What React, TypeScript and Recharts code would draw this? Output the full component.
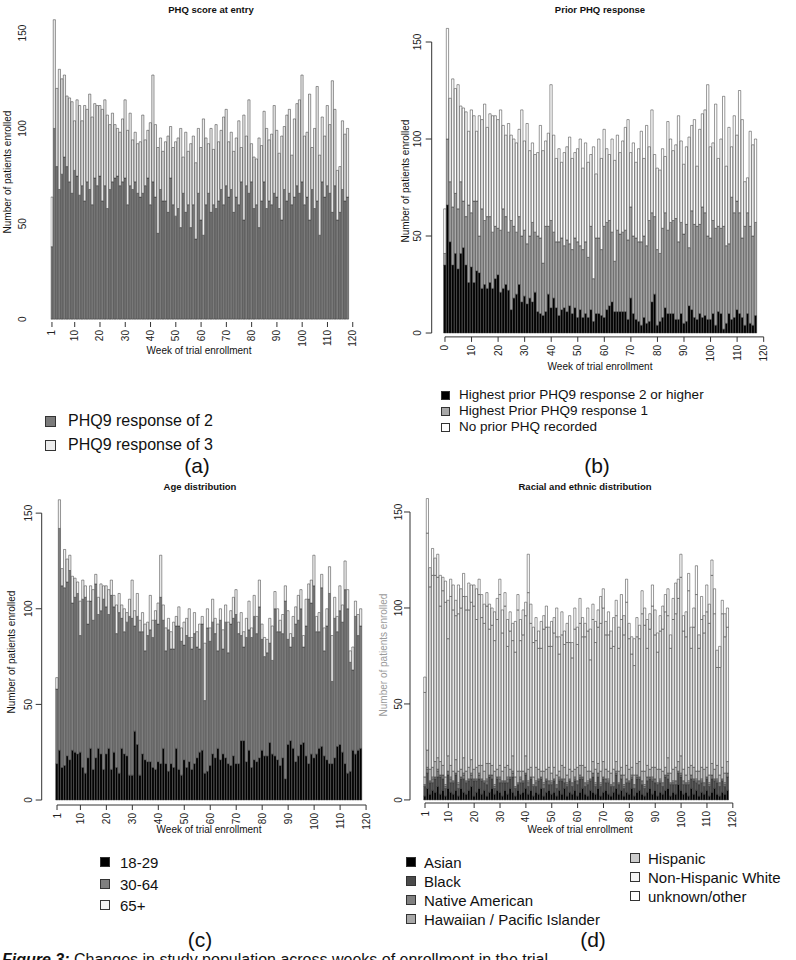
import React from "react";
import { BarChart, Bar, XAxis, YAxis, ReferenceLine } from "recharts";

// patients enrolled per week (weeks 1..118), same across all four panels
const totals = [
  64, 157, 121, 131, 126, 128, 117, 116, 114, 104,
  115, 112, 104, 112, 110, 118, 106, 113, 112, 112,
  110, 115, 107, 102, 108, 102, 100, 98, 105, 115,
  99, 108, 94, 98, 92, 93, 107, 94, 99, 103,
  128, 102, 90, 95, 88, 93, 96, 101, 90, 93,
  95, 100, 85, 98, 88, 92, 96, 82, 100, 90,
  105, 95, 92, 100, 89, 102, 93, 99, 106, 110,
  93, 98, 88, 95, 104, 90, 107, 96, 115, 92,
  85, 84, 95, 91, 109, 100, 94, 97, 112, 99,
  87, 96, 101, 107, 110, 86, 105, 113, 115, 128,
  96, 98, 118, 90, 100, 122, 86, 106, 96, 112,
  102, 125, 110, 78, 80, 104, 97, 100,
];

// (a) PHQ9 response of 2 (rest are response of 3)
const phqResp2 = [
  38, 100, 80, 68, 76, 85, 80, 72, 66, 78,
  75, 65, 70, 62, 72, 68, 60, 74, 70, 75,
  62, 70, 58, 68, 72, 74, 75, 70, 72, 74,
  60, 70, 68, 72, 66, 64, 66, 70, 74, 60,
  72, 64, 45, 68, 62, 62, 56, 74, 60, 54,
  58, 48, 66, 56, 60, 48, 60, 42, 66, 52,
  44, 60, 66, 56, 60, 58, 62, 68, 60, 70,
  64, 68, 56, 64, 60, 72, 52, 70, 66, 72,
  58, 60, 48, 62, 72, 58, 62, 60, 66, 64,
  58, 52, 68, 62, 66, 60, 64, 70, 66, 72,
  60, 64, 52, 68, 58, 62, 44, 72, 64, 70,
  66, 56, 70, 52, 56, 68, 62, 64,
];

// (b) prior PHQ response; rest = no prior PHQ recorded
const priorHigh = [
  35, 66, 47, 35, 41, 33, 41, 44, 35, 26,
  34, 26, 32, 31, 23, 25, 23, 26, 23, 28,
  30, 21, 23, 25, 22, 12, 18, 20, 25, 16,
  19, 15, 18, 16, 21, 11, 10, 9, 11, 20,
  13, 18, 13, 9, 12, 13, 11, 14, 10, 13,
  8, 12, 8, 10, 8, 12, 6, 10, 10, 9,
  8, 12, 14, 16, 11, 11, 11, 11, 11, 7,
  18, 10, 7, 6, 4, 8, 5, 6, 16, 20,
  4, 6, 8, 13, 10, 10, 10, 7, 7, 10,
  5, 6, 14, 12, 8, 7, 10, 8, 9, 7,
  7, 10, 4, 11, 10, 2, 5, 10, 7, 8,
  12, 10, 8, 4, 10, 5, 4, 9,
];
const priorOne = [
  6, 34, 31, 30, 31, 31, 37, 24, 25, 40,
  28, 42, 36, 19, 41, 33, 37, 34, 29, 27,
  24, 32, 41, 35, 30, 46, 37, 32, 35, 34,
  34, 31, 32, 41, 31, 39, 39, 27, 44, 35,
  45, 34, 34, 38, 37, 32, 37, 32, 33, 36,
  39, 33, 35, 37, 31, 43, 22, 39, 39, 34,
  47, 45, 44, 36, 26, 42, 40, 41, 42, 41,
  47, 40, 42, 41, 43, 42, 40, 52, 46, 40,
  39, 35, 46, 49, 43, 47, 48, 52, 40, 47,
  46, 50, 30, 51, 48, 48, 46, 57, 53, 43,
  42, 48, 50, 44, 44, 53, 40, 36, 63, 54,
  56, 52, 41, 51, 52, 50, 46, 48,
];

// (c) age; 30-64 is the rest
const age1829 = [
  19, 26, 17, 18, 23, 21, 26, 25, 24, 25,
  17, 14, 22, 27, 16, 22, 27, 24, 16, 24,
  27, 16, 25, 17, 14, 27, 24, 23, 13, 13,
  36, 29, 13, 24, 21, 20, 20, 17, 16, 20,
  19, 27, 19, 15, 19, 17, 27, 16, 13, 21,
  17, 20, 16, 19, 22, 25, 26, 14, 15, 18,
  24, 22, 27, 21, 24, 22, 19, 18, 23, 19,
  19, 31, 31, 20, 26, 17, 21, 20, 22, 26,
  23, 23, 30, 24, 23, 21, 18, 22, 11, 29,
  31, 27, 20, 23, 29, 30, 23, 19, 24, 22,
  24, 27, 28, 23, 21, 19, 19, 22, 28, 29,
  25, 19, 14, 15, 26, 24, 26, 27,
];
const age65 = [
  6, 15, 9, 20, 12, 8, 14, 10, 6, 18,
  10, 6, 12, 8, 16, 5, 9, 14, 7, 11,
  13, 8, 6, 15, 10, 7, 12, 5, 9, 20,
  8, 12, 6, 10, 14, 7, 18, 9, 5, 11,
  22, 8, 12, 6, 9, 14, 5, 10, 7, 12,
  9, 15, 6, 11, 8, 13, 4, 30, 10, 7,
  12, 8, 14, 6, 10, 9, 16, 7, 11, 13,
  6, 12, 8, 10, 15, 5, 11, 9, 14, 8,
  10, 7, 13, 18, 9, 12, 6, 10, 8, 15,
  7, 11, 9, 13, 10, 6, 14, 8, 12, 16,
  8, 10, 7, 12, 9, 14, 24, 11, 8, 13,
  9, 15, 10, 6, 12, 8, 11, 9,
];

// (d) race / ethnicity; non-Hispanic white is the rest
const asian = [
  2, 6, 3, 5, 4, 7, 3, 5, 2, 6, 4, 3, 5, 2, 6, 4, 3, 5, 7, 2,
  4, 6, 3, 5, 2, 4, 6, 3, 5, 4, 2, 5, 3, 6, 4, 2, 5, 3, 4, 6,
  3, 5, 2, 4, 3, 6, 2, 4, 5, 3, 4, 2, 5, 3, 6, 2, 4, 3, 5, 2,
  4, 6, 3, 2, 5, 4, 3, 6, 2, 4, 5, 3, 2, 4, 6, 3, 5, 2, 4, 3,
  6, 2, 4, 5, 3, 2, 4, 6, 3, 5, 2, 4, 3, 5, 6, 2, 4, 3, 8, 5,
  3, 4, 2, 6, 3, 5, 2, 4, 3, 5, 2, 4, 6, 3, 2, 4, 3, 5,
];
const black = [
  5, 8, 6, 4, 7, 5, 9, 6, 4, 7, 5, 6, 8, 4, 5, 7, 6, 5, 4, 8,
  6, 5, 7, 4, 6, 8, 5, 3, 6, 5, 7, 4, 6, 5, 8, 4, 3, 6, 5, 7,
  4, 6, 5, 3, 7, 5, 4, 6, 3, 5, 6, 4, 5, 7, 3, 5, 6, 4, 5, 6,
  7, 5, 4, 6, 5, 8, 4, 6, 5, 7, 4, 6, 5, 3, 7, 5, 6, 4, 5, 6,
  5, 4, 7, 6, 5, 4, 6, 5, 7, 4, 6, 5, 4, 7, 5, 6, 4, 5, 6, 7,
  5, 4, 6, 5, 7, 4, 6, 5, 4, 6, 5, 7, 4, 6, 5, 6, 4, 7,
];
const nativeAm = [
  1, 2, 1, 2, 1, 3, 1, 2, 1, 2, 2, 1, 1, 2, 1, 2, 1, 1, 2, 1,
  1, 2, 1, 1, 2, 1, 2, 1, 1, 2, 1, 1, 2, 1, 2, 1, 1, 2, 1, 1,
  2, 1, 1, 2, 1, 1, 2, 1, 2, 1, 1, 2, 1, 1, 2, 1, 1, 2, 1, 2,
  1, 1, 2, 1, 1, 2, 1, 2, 1, 1, 2, 1, 1, 2, 1, 1, 2, 1, 2, 1,
  1, 2, 1, 1, 2, 1, 2, 1, 1, 2, 1, 1, 2, 1, 2, 1, 1, 2, 1, 1,
  2, 1, 1, 2, 1, 1, 2, 1, 2, 1, 1, 2, 1, 1, 2, 1, 1, 2,
];
const hawaiian = [
  0, 1, 0, 1, 0, 1, 0, 0, 1, 0, 1, 0, 0, 1, 0, 1, 0, 0, 1, 0,
  0, 1, 0, 0, 1, 0, 0, 1, 0, 1, 0, 0, 1, 0, 1, 0, 0, 1, 0, 0,
  1, 0, 0, 1, 0, 0, 1, 0, 0, 1, 0, 0, 1, 0, 0, 1, 0, 0, 1, 0,
  1, 0, 0, 1, 0, 0, 1, 0, 1, 0, 0, 1, 0, 0, 1, 0, 0, 1, 0, 0,
  1, 0, 1, 0, 0, 1, 0, 0, 1, 0, 0, 1, 0, 0, 1, 0, 1, 0, 0, 1,
  0, 0, 1, 0, 0, 1, 0, 1, 0, 0, 1, 0, 0, 1, 0, 0, 1, 0,
];
const hispanic = [
  4, 9, 6, 5, 8, 6, 7, 5, 4, 8, 6, 5, 7, 6, 4, 8, 5, 6, 7, 5,
  6, 4, 7, 5, 8, 6, 5, 7, 4, 6, 5, 7, 6, 4, 8, 5, 6, 3, 5, 9,
  6, 5, 4, 7, 5, 3, 6, 5, 7, 4, 6, 5, 3, 7, 6, 4, 5, 6, 4, 7,
  5, 6, 8, 5, 4, 6, 7, 5, 6, 8, 5, 4, 6, 7, 5, 6, 4, 5, 7, 6,
  4, 5, 6, 8, 5, 7, 6, 4, 5, 6, 7, 5, 6, 4, 8, 5, 6, 7, 5, 9,
  6, 4, 7, 5, 6, 4, 5, 6, 7, 5, 4, 6, 5, 7, 4, 6, 5, 6,
];
const unknownOther = [
  8, 18, 10, 14, 9, 12, 16, 7, 11, 20, 9, 13, 8, 15, 10, 12, 7, 14, 9, 11,
  16, 8, 12, 10, 7, 13, 9, 15, 11, 8, 12, 7, 14, 10, 9, 16, 8, 11, 13, 7,
  20, 10, 8, 12, 9, 14, 7, 11, 10, 13, 8, 15, 9, 12, 7, 10, 14, 8, 11, 9,
  13, 10, 7, 12, 16, 8, 11, 9, 14, 10, 7, 12, 9, 15, 8, 11, 13, 10, 12, 8,
  9, 14, 10, 7, 12, 9, 15, 8, 11, 13, 10, 8, 12, 9, 14, 7, 11, 16, 10, 12,
  8, 13, 9, 11, 10, 15, 7, 12, 9, 14, 10, 8, 13, 9, 11, 7, 12, 10,
];

const weekTicks = [1, 10, 20, 30, 40, 50, 60, 70, 80, 90, 100, 110, 120];
const weekTicksB = [0, 10, 20, 30, 40, 50, 60, 70, 80, 90, 100, 110, 120];
const countTicks = [0, 50, 100, 150];

const dataA = totals.map((t, i) => ({ week: i + 1, r2: phqResp2[i], r3: t - phqResp2[i] }));
const dataB = totals.map((t, i) => ({
  week: i,
  high: priorHigh[i],
  one: priorOne[i],
  none: t - priorHigh[i] - priorOne[i],
}));
const dataC = totals.map((t, i) => ({
  week: i + 1,
  young: age1829[i],
  mid: t - age1829[i] - age65[i],
  old: age65[i],
}));
const dataD = totals.map((t, i) => {
  const low = asian[i] + black[i] + nativeAm[i] + hawaiian[i] + hispanic[i] + unknownOther[i];
  return {
    week: i + 1,
    asian: asian[i],
    black: black[i],
    nativeAm: nativeAm[i],
    hawaiian: hawaiian[i],
    hispanic: hispanic[i],
    white: t - low,
    unknown: unknownOther[i],
  };
});

const FONT = "'Liberation Sans', Arial, Helvetica, sans-serif";
const EDGE = "#333";

const XTick = (p: any) => (
  <text
    x={p.x}
    y={p.y}
    transform={`rotate(-90 ${p.x} ${p.y})`}
    textAnchor="end"
    dominantBaseline="central"
    fontSize={10}
    fontFamily={FONT}
    fill="#222"
  >
    {p.payload.value}
  </text>
);

const yTick = (lx: number) => (p: any) => (
  <text
    x={lx}
    y={p.y}
    transform={`rotate(-90 ${lx} ${p.y})`}
    textAnchor="middle"
    dominantBaseline="central"
    fontSize={10}
    fontFamily={FONT}
    fill="#222"
  >
    {p.payload.value}
  </text>
);

function T({ x, y, size, children, bold, anchor = "left", color = "#111" }: any) {
  const tx = anchor === "center" ? "-50%" : "0";
  return (
    <div
      style={{
        position: "absolute",
        left: x,
        top: y,
        transform: `translate(${tx}, -50%)`,
        fontSize: size,
        fontWeight: bold ? "bold" : "normal",
        fontFamily: FONT,
        color,
        whiteSpace: "nowrap",
        lineHeight: 1,
      }}
    >
      {children}
    </div>
  );
}

function VT({ x, y, size = 10, children, color = "#111" }: any) {
  return (
    <div
      style={{
        position: "absolute",
        left: x,
        top: y,
        transform: "translate(-50%, -50%) rotate(-90deg)",
        fontSize: size,
        fontFamily: FONT,
        color,
        whiteSpace: "nowrap",
        lineHeight: 1,
      }}
    >
      {children}
    </div>
  );
}

function Key({ x, y, size, fill }: any) {
  return (
    <div
      style={{
        position: "absolute",
        left: x,
        top: y - size / 2,
        width: size,
        height: size,
        boxSizing: "border-box",
        background: fill,
        border: "1px solid #333",
      }}
    />
  );
}

export default function App() {
  return (
    <div
      style={{
        position: "absolute",
        left: 0,
        top: 0,
        width: 796,
        height: 960,
        overflow: "hidden",
        background: "#fff",
      }}
    >
      {/* (a) */}
      <div style={{ position: "absolute", left: 0, top: 0 }}>
        <BarChart
          width={370}
          height={380}
          data={dataA}
          barSize={2.2}
          margin={{ top: 14, right: 16, bottom: 18, left: 0 }}
        >
          <XAxis
            dataKey="week"
            type="number"
            domain={[0.5, 120.5]}
            ticks={weekTicks}
            interval={0}
            axisLine={false}
            tickLine={{ stroke: "#333" }}
            tickSize={5}
            tickMargin={3}
            height={40}
            tick={XTick}
            allowDataOverflow
          />
          <YAxis
            type="number"
            domain={[-1.5, 160]}
            ticks={countTicks}
            width={50.7}
            axisLine={false}
            tickLine={false}
            tick={yTick(23)}
            allowDataOverflow
          />
          <Bar dataKey="r2" stackId="a" fill="#7b7b7b" stroke={EDGE} strokeWidth={0.5} isAnimationActive={false} />
          <Bar dataKey="r3" stackId="a" fill="#ececec" stroke={EDGE} strokeWidth={0.5} isAnimationActive={false} />
        </BarChart>
      </div>

      {/* (b) */}
      <div style={{ position: "absolute", left: 400, top: 0 }}>
        <BarChart
          width={396}
          height={380}
          data={dataB}
          barSize={2.3}
          margin={{ top: 22.6, right: 31, bottom: 3.1, left: 0 }}
        >
          <XAxis
            dataKey="week"
            type="number"
            domain={[-5, 120.5]}
            ticks={weekTicksB}
            interval={0}
            axisLine={false}
            tickLine={{ stroke: "#333" }}
            tickSize={5}
            tickMargin={3}
            height={40}
            tick={XTick}
            allowDataOverflow
          />
          <YAxis
            type="number"
            domain={[-2, 160]}
            ticks={countTicks}
            width={31.7}
            axisLine={false}
            tickLine={{ stroke: "#333" }}
            tickSize={6}
            tick={yTick(18)}
            allowDataOverflow
          />
          <Bar dataKey="high" stackId="b" fill="#000" stroke={EDGE} strokeWidth={0.5} isAnimationActive={false} />
          <Bar dataKey="one" stackId="b" fill="#a8a8a8" stroke={EDGE} strokeWidth={0.5} isAnimationActive={false} />
          <Bar dataKey="none" stackId="b" fill="#fff" stroke={EDGE} strokeWidth={0.5} isAnimationActive={false} />
          <ReferenceLine segment={[{ x: -5, y: 0 }, { x: -5, y: 150 }]} stroke="#333" ifOverflow="visible" />
          <ReferenceLine segment={[{ x: 0, y: -2 }, { x: 120, y: -2 }]} stroke="#333" ifOverflow="visible" />
        </BarChart>
      </div>

      {/* (c) */}
      <div style={{ position: "absolute", left: 0, top: 480 }}>
        <BarChart
          width={380}
          height={370}
          data={dataC}
          barSize={2.2}
          margin={{ top: 14, right: 9, bottom: 5, left: 0 }}
        >
          <XAxis
            dataKey="week"
            type="number"
            domain={[-4.9, 121.9]}
            ticks={weekTicks}
            interval={0}
            axisLine={false}
            tickLine={{ stroke: "#333" }}
            tickSize={5}
            tickMargin={3}
            height={40}
            tick={XTick}
            allowDataOverflow
          />
          <YAxis
            type="number"
            domain={[-2.6, 160]}
            ticks={countTicks}
            width={41.7}
            axisLine={false}
            tickLine={{ stroke: "#333" }}
            tickSize={6}
            tick={yTick(29)}
            allowDataOverflow
          />
          <Bar dataKey="young" stackId="c" fill="#000" stroke={EDGE} strokeWidth={0.5} isAnimationActive={false} />
          <Bar dataKey="mid" stackId="c" fill="#7e7e7e" stroke={EDGE} strokeWidth={0.5} isAnimationActive={false} />
          <Bar dataKey="old" stackId="c" fill="#f2f2f2" stroke={EDGE} strokeWidth={0.5} isAnimationActive={false} />
          <ReferenceLine segment={[{ x: -4.9, y: 0 }, { x: -4.9, y: 150 }]} stroke="#333" ifOverflow="visible" />
          <ReferenceLine segment={[{ x: 1, y: -2.6 }, { x: 120, y: -2.6 }]} stroke="#333" ifOverflow="visible" />
        </BarChart>
      </div>

      {/* (d) */}
      <div style={{ position: "absolute", left: 380, top: 480 }}>
        <BarChart
          width={400}
          height={370}
          data={dataD}
          barSize={2.2}
          margin={{ top: 12.8, right: 42, bottom: 7, left: 0 }}
        >
          <XAxis
            dataKey="week"
            type="number"
            domain={[-4.8, 122]}
            ticks={weekTicks}
            interval={0}
            axisLine={false}
            tickLine={{ stroke: "#333" }}
            tickSize={5}
            tickMargin={3}
            height={40}
            tick={XTick}
            allowDataOverflow
          />
          <YAxis
            type="number"
            domain={[-1.6, 160]}
            ticks={countTicks}
            width={30}
            axisLine={false}
            tickLine={{ stroke: "#333" }}
            tickSize={6}
            tick={yTick(19)}
            allowDataOverflow
          />
          <Bar dataKey="asian" stackId="d" fill="#000" stroke={EDGE} strokeWidth={0.5} isAnimationActive={false} />
          <Bar dataKey="black" stackId="d" fill="#4a4a4a" stroke={EDGE} strokeWidth={0.5} isAnimationActive={false} />
          <Bar dataKey="nativeAm" stackId="d" fill="#808080" stroke={EDGE} strokeWidth={0.5} isAnimationActive={false} />
          <Bar dataKey="hawaiian" stackId="d" fill="#a8a8a8" stroke={EDGE} strokeWidth={0.5} isAnimationActive={false} />
          <Bar dataKey="hispanic" stackId="d" fill="#cccccc" stroke={EDGE} strokeWidth={0.5} isAnimationActive={false} />
          <Bar dataKey="white" stackId="d" fill="#f4f4f4" stroke={EDGE} strokeWidth={0.5} isAnimationActive={false} />
          <Bar dataKey="unknown" stackId="d" fill="#fff" stroke={EDGE} strokeWidth={0.5} isAnimationActive={false} />
          <ReferenceLine segment={[{ x: -4.8, y: 0 }, { x: -4.8, y: 150 }]} stroke="#333" ifOverflow="visible" />
          <ReferenceLine segment={[{ x: 1, y: -1.6 }, { x: 120, y: -1.6 }]} stroke="#333" ifOverflow="visible" />
        </BarChart>
      </div>

      {/* titles and axis labels */}
      <T x={211} y={10} size={9.5} bold anchor="center">PHQ score at entry</T>
      <T x={600} y={10} size={9.5} bold anchor="center">Prior PHQ response</T>
      <T x={200} y={487} size={9.5} bold anchor="center">Age distribution</T>
      <T x={585} y={487} size={9.5} bold anchor="center">Racial and ethnic distribution</T>

      <VT x={8} y={172}>Number of patients enrolled</VT>
      <VT x={406} y={181}>Number of patients enrolled</VT>
      <VT x={12} y={652}>Number of patients enrolled</VT>
      <VT x={384} y={655} color="#9a9a9a">Number of patients enrolled</VT>

      <T x={199} y={351} size={10} anchor="center">Week of trial enrollment</T>
      <T x={600} y={367} size={10} anchor="center">Week of trial enrollment</T>
      <T x={209} y={830} size={10} anchor="center">Week of trial enrollment</T>
      <T x={580} y={830} size={10} anchor="center">Week of trial enrollment</T>

      {/* legend (a) */}
      <Key x={45} y={421} size={11} fill="#7b7b7b" />
      <T x={68} y={421} size={16}>PHQ9 response of 2</T>
      <Key x={45} y={445} size={11} fill="#ececec" />
      <T x={68} y={445} size={16}>PHQ9 response of 3</T>

      {/* legend (b) */}
      <Key x={441} y={395} size={9} fill="#000" />
      <T x={459} y={395} size={13.5}>Highest prior PHQ9 response 2 or higher</T>
      <Key x={441} y={411} size={9} fill="#a8a8a8" />
      <T x={459} y={411} size={13.5}>Highest Prior PHQ9 response 1</T>
      <Key x={441} y={427} size={9} fill="#fff" />
      <T x={459} y={427} size={13.5}>No prior PHQ recorded</T>

      {/* legend (c) */}
      <Key x={100} y={862} size={10} fill="#000" />
      <T x={120} y={862} size={15}>18-29</T>
      <Key x={100} y={884} size={10} fill="#7e7e7e" />
      <T x={120} y={884} size={15}>30-64</T>
      <Key x={100} y={905} size={10} fill="#f2f2f2" />
      <T x={120} y={905} size={15}>65+</T>

      {/* legend (d) */}
      <Key x={406} y={862} size={10} fill="#000" />
      <T x={424} y={862} size={15}>Asian</T>
      <Key x={406} y={881} size={10} fill="#4a4a4a" />
      <T x={424} y={881} size={15}>Black</T>
      <Key x={406} y={900} size={10} fill="#808080" />
      <T x={424} y={900} size={15}>Native American</T>
      <Key x={406} y={919} size={10} fill="#a8a8a8" />
      <T x={424} y={919} size={15}>Hawaiian / Pacific Islander</T>
      <Key x={630} y={858} size={10} fill="#cccccc" />
      <T x={648} y={858} size={15}>Hispanic</T>
      <Key x={630} y={877} size={10} fill="#f4f4f4" />
      <T x={648} y={877} size={15}>Non-Hispanic White</T>
      <Key x={630} y={896} size={10} fill="#fff" />
      <T x={648} y={896} size={15}>unknown/other</T>

      {/* panel letters */}
      <T x={197} y={465} size={21} anchor="center">(a)</T>
      <T x={597} y={465} size={21} anchor="center">(b)</T>
      <T x={200} y={939} size={21} anchor="center">(c)</T>
      <T x={593} y={939} size={21} anchor="center">(d)</T>

      {/* caption, cut off by the page edge as in the source page */}
      <div
        style={{
          position: "absolute",
          left: 2,
          top: 952,
          fontSize: 16,
          fontFamily: FONT,
          color: "#111",
          whiteSpace: "nowrap",
          lineHeight: 1,
        }}
      >
        <b><i>Figure 3:</i></b> Changes in study population across weeks of enrollment in the trial
      </div>
    </div>
  );
}
